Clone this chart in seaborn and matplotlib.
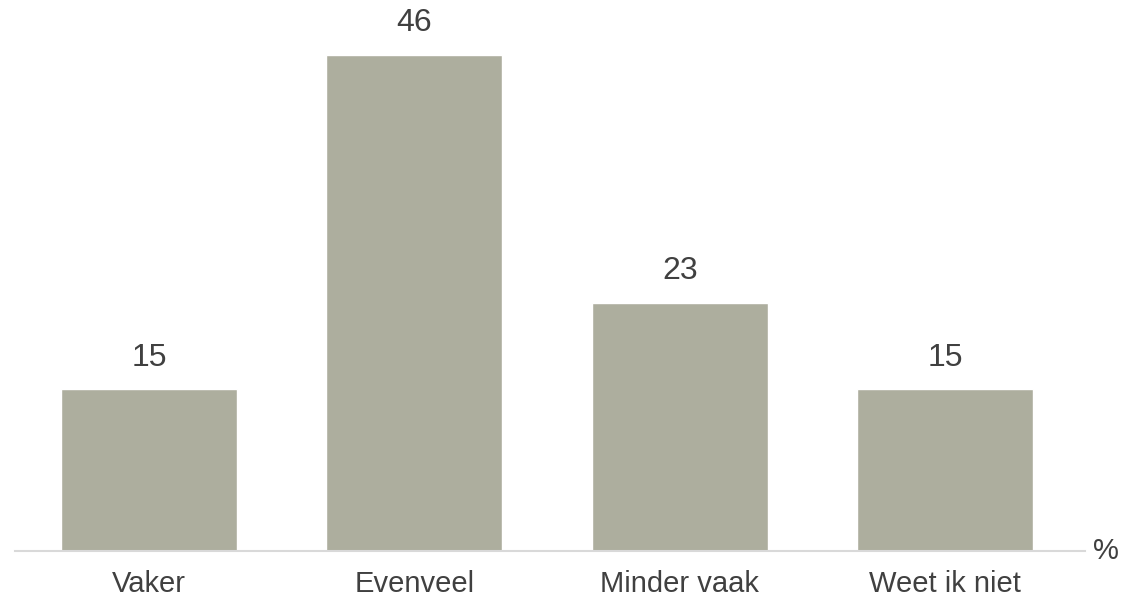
import seaborn as sns; import matplotlib.pyplot as plt
import numpy as np; import pandas as pd

categories = ['Vaker', 'Evenveel', 'Minder vaak', 'Weet ik niet']
values = [15, 46, 23, 15]
unit = '%'

df = pd.DataFrame({'cat': categories, 'val': values})

sns.set_theme(style='white')
plt.rcParams['font.family'] = ['Liberation Sans', 'DejaVu Sans']

fig = plt.figure(figsize=(11.32, 5.98), dpi=100)
ax = fig.add_axes([15/1132, 47/598, 1070/1132, 539/598])
sns.barplot(data=df, x='cat', y='val', color='#ADAE9E', saturation=1, width=0.663, ax=ax)

ax.set_xlim(-0.505, 3.527); ax.set_ylim(0, 50)
ax.set_xlabel(''); ax.set_ylabel(''); ax.set_yticks([])
for s in ['top', 'right', 'left']:
    ax.spines[s].set_visible(False)
ax.spines['bottom'].set_color('#D9D9D9'); ax.spines['bottom'].set_linewidth(1.5)
ax.tick_params(axis='x', length=0, pad=14, labelsize=21, labelcolor='#404040')

for p, v in zip(ax.patches, values):
    ax.annotate(str(v), (p.get_x() + p.get_width()/2, p.get_height()), xytext=(0, 12),
                textcoords='offset points', ha='center', va='bottom', fontsize=23, color='#404040')

ax.text(1.02, 0, unit, transform=ax.transAxes, ha='center', va='center', fontsize=21, color='#404040')

plt.savefig('out.png', dpi=100)
